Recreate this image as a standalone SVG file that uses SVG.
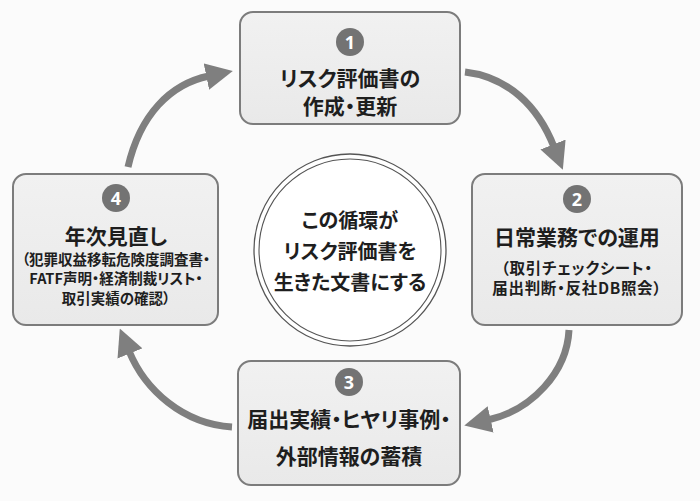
<svg xmlns="http://www.w3.org/2000/svg" width="700" height="501" viewBox="0 0 700 501">
<style>
.box{fill:url(#g);stroke:#7c7c7c;stroke-width:2}
.t{font-family:"Noto Sans CJK JP","Noto Sans",sans-serif;font-weight:bold;fill:#1e1e1e;text-anchor:middle;font-feature-settings:"palt" 1}
.big{font-size:21px}
.sm{font-size:14.5px}
.sm2{font-size:15.5px;letter-spacing:0.7px}
.badge{fill:#737373}
.num{font-family:"Noto Sans","Liberation Sans",sans-serif;font-weight:bold;font-size:18px;fill:#fff;text-anchor:middle}
.arr{fill:none;stroke:#7f7f7f;stroke-width:7;marker-end:url(#ah)}
</style>
<defs>
<linearGradient id="g" x1="0" y1="0" x2="0" y2="1">
<stop offset="0" stop-color="#f1f1f1"/>
<stop offset="1" stop-color="#e9e9e9"/>
</linearGradient>
<marker id="ah" viewBox="0 0 10 10" refX="1" refY="5" markerWidth="27" markerHeight="27" markerUnits="userSpaceOnUse" orient="auto">
<path d="M0,0 L10,5 L0,10 Z" fill="#7f7f7f"/>
</marker>
</defs>
<rect width="700" height="501" fill="#fbfbfb"/>
<g id="connectors">
<path class="arr" d="M128,167 C140,115 170,84 209,76"/>
<path class="arr" d="M465,72 C508,77 538,106 554,147"/>
<path class="arr" d="M569,330 C567,372 532,410 488,420"/>
<path class="arr" d="M232,427 C183,424 145,390 129,351"/>
</g>
<g id="node1">
<rect class="box" x="240" y="12" width="220" height="112" rx="13"/>
<circle class="badge" cx="350" cy="42" r="14"/>
<text class="num" x="350" y="48.5">1</text>
<text class="t big" x="350" y="86">リスク評価書の</text>
<text class="t big" x="350" y="114">作成・更新</text>
</g>
<g id="node2">
<rect class="box" x="472" y="174" width="210" height="151" rx="13"/>
<circle class="badge" cx="577" cy="199" r="14"/>
<text class="num" x="577" y="205.5">2</text>
<text class="t big" x="577" y="245">日常業務での運用</text>
<text class="t sm2" x="577" y="274">（取引チェックシート・</text>
<text class="t sm2" x="577" y="294">届出判断・反社DB照会）</text>
</g>
<g id="node3">
<rect class="box" x="238" y="361" width="222" height="124" rx="13"/>
<circle class="badge" cx="349" cy="382" r="14"/>
<text class="num" x="349" y="388.5">3</text>
<text class="t big" x="349" y="427">届出実績・ヒヤリ事例・</text>
<text class="t big" x="349" y="464">外部情報の蓄積</text>
</g>
<g id="node4">
<rect class="box" x="13" y="174" width="205" height="151" rx="13"/>
<circle class="badge" cx="116" cy="198" r="14"/>
<text class="num" x="116" y="204.5">4</text>
<text class="t big" x="116" y="244">年次見直し</text>
<text class="t sm" x="116" y="265">（犯罪収益移転危険度調査書・</text>
<text class="t sm" x="116" y="284">FATF声明・経済制裁リスト・</text>
<text class="t sm" x="116" y="304">取引実績の確認）</text>
</g>
<g id="center">
<circle cx="350" cy="250" r="96" fill="#fff" stroke="#555" stroke-width="1.3"/>
<circle cx="350" cy="250" r="91" fill="none" stroke="#555" stroke-width="1.1"/>
<text class="t" x="350" y="228" style="font-size:20px">この循環が</text>
<text class="t" x="350" y="259" style="font-size:20px">リスク評価書を</text>
<text class="t" x="350" y="290" style="font-size:20px">生きた文書にする</text>
</g>
</svg>
